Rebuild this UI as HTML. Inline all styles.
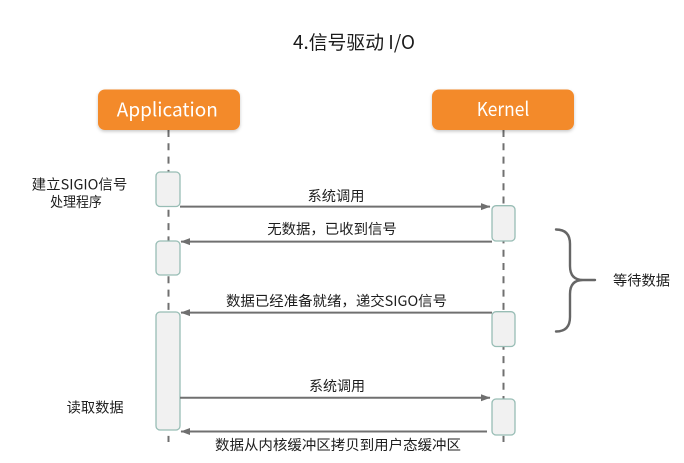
<!DOCTYPE html>
<html>
<head>
<meta charset="utf-8">
<style>
  html, body { margin: 0; padding: 0; background: #ffffff; }
  body { width: 684px; height: 463px; overflow: hidden; }
  svg { display: block; }
  text { font-family: "Noto Sans CJK SC", "Liberation Sans", sans-serif; }
</style>
</head>
<body>
<svg width="684" height="463" viewBox="0 0 684 463" xmlns="http://www.w3.org/2000/svg">
  <defs>
    <filter id="sh" x="-10%" y="-20%" width="120%" height="150%">
      <feDropShadow dx="0" dy="1.5" stdDeviation="1.5" flood-color="#000" flood-opacity="0.22"/>
    </filter>
    <marker id="ah" markerWidth="10" markerHeight="8" refX="9" refY="4" orient="auto" markerUnits="userSpaceOnUse">
      <path d="M0,0.5 L9.5,4 L0,7.5 Z" fill="#6f6f6f"/>
    </marker>
  </defs>

  <rect width="684" height="463" fill="#ffffff"/>

  <!-- Title -->
  <text x="354" y="49" font-size="19" fill="#1a1a1a" text-anchor="middle" textLength="122" lengthAdjust="spacingAndGlyphs">4.信号驱动 I/O</text>

  <!-- Lifelines -->
  <line x1="168.5" y1="130" x2="168.5" y2="442" stroke="#707070" stroke-width="2" stroke-dasharray="7 6.3"/>
  <line x1="503.5" y1="130" x2="503.5" y2="442" stroke="#707070" stroke-width="2" stroke-dasharray="7 6.3"/>

  <!-- Header boxes -->
  <rect x="98" y="89.5" width="142" height="40.5" rx="7" ry="7" fill="#F38A2B" filter="url(#sh)"/>
  <rect x="432" y="89.5" width="142" height="40.5" rx="7" ry="7" fill="#F38A2B" filter="url(#sh)"/>
  <text x="167.3" y="116.5" font-size="19" fill="#ffffff" text-anchor="middle" textLength="101" lengthAdjust="spacingAndGlyphs">Application</text>
  <text x="503" y="116" font-size="19" fill="#ffffff" text-anchor="middle" textLength="52.6" lengthAdjust="spacingAndGlyphs">Kernel</text>

  <!-- Activation boxes -->
  <g fill="#f1f1f1" stroke="#98bdb5" stroke-width="1.3">
    <rect x="156" y="172" width="24" height="34.5" rx="4"/>
    <rect x="156" y="241" width="24" height="34" rx="4"/>
    <rect x="156" y="312" width="24" height="118" rx="4"/>
    <rect x="492" y="205.7" width="23" height="35.3" rx="4"/>
    <rect x="492" y="311.7" width="23" height="34.8" rx="4"/>
    <rect x="492" y="399" width="23" height="36" rx="4"/>
  </g>

  <!-- Arrows -->
  <g stroke="#707070" stroke-width="2" fill="none">
    <line x1="180" y1="206.6" x2="490" y2="206.6" marker-end="url(#ah)"/>
    <line x1="492" y1="241.6" x2="181" y2="241.6" marker-end="url(#ah)"/>
    <line x1="492" y1="312.6" x2="181" y2="312.6" marker-end="url(#ah)"/>
    <line x1="180" y1="397.8" x2="490" y2="397.8" marker-end="url(#ah)"/>
    <line x1="487" y1="431.5" x2="181" y2="431.5" marker-end="url(#ah)"/>
  </g>

  <!-- Arrow labels -->
  <g font-size="14.4" fill="#1e1e1e" text-anchor="middle">
    <text x="336" y="201" textLength="57" lengthAdjust="spacingAndGlyphs">系统调用</text>
    <text x="332" y="234" textLength="129.5" lengthAdjust="spacingAndGlyphs">无数据，已收到信号</text>
    <text x="336.5" y="306" textLength="221" lengthAdjust="spacingAndGlyphs">数据已经准备就绪，递交SIGO信号</text>
    <text x="337" y="391" textLength="56" lengthAdjust="spacingAndGlyphs">系统调用</text>
    <text x="338" y="450" textLength="246" lengthAdjust="spacingAndGlyphs">数据从内核缓冲区拷贝到用户态缓冲区</text>
  </g>

  <!-- Left labels -->
  <g font-size="14" fill="#1e1e1e" text-anchor="middle">
    <text x="79.5" y="189.5" textLength="95.6" lengthAdjust="spacingAndGlyphs">建立SIGIO信号</text>
    <text x="76" y="207" textLength="51.7" lengthAdjust="spacingAndGlyphs">处理程序</text>
    <text x="95.2" y="412.5" textLength="57" lengthAdjust="spacingAndGlyphs">读取数据</text>
  </g>

  <!-- Brace -->
  <path d="M556,229.5 Q570,229.5 570,244 L570,266 Q570,280 583,280 L595,280 M556,331.5 Q570,331.5 570,317 L570,294 Q570,280 583,280"
        fill="none" stroke="#666" stroke-width="2.4" stroke-linecap="round" stroke-linejoin="round"/>
  <text x="641.5" y="285.5" font-size="14.4" fill="#1e1e1e" text-anchor="middle" textLength="57" lengthAdjust="spacingAndGlyphs">等待数据</text>
</svg>
</body>
</html>
